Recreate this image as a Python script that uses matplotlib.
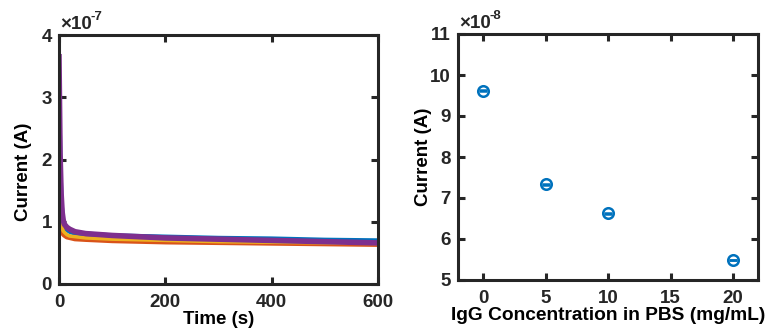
import matplotlib.pyplot as plt
from matplotlib.ticker import FuncFormatter

plt.rcParams['font.family'] = ['Liberation Sans', 'DejaVu Sans']
plt.rcParams['font.weight'] = 'bold'
plt.rcParams['axes.labelweight'] = 'bold'

# chronoamperometry traces (current in A)
time_s = [0, 2, 4, 6, 8, 10, 15, 20, 30, 50, 100, 150, 200, 300, 400, 500, 600]
cur_blue = [2.60e-7, 1.70e-7, 1.25e-7, 1.05e-7, 0.97e-7, 0.93e-7, 0.88e-7, 0.85e-7, 0.82e-7, 0.80e-7,
            0.77e-7, 0.76e-7, 0.75e-7, 0.73e-7, 0.72e-7, 0.70e-7, 0.69e-7]
cur_orange = [1.60e-7, 1.10e-7, 0.92e-7, 0.85e-7, 0.81e-7, 0.79e-7, 0.76e-7, 0.75e-7, 0.73e-7, 0.72e-7,
              0.70e-7, 0.69e-7, 0.68e-7, 0.67e-7, 0.66e-7, 0.65e-7, 0.64e-7]
cur_yellow = [1.65e-7, 1.15e-7, 0.97e-7, 0.89e-7, 0.85e-7, 0.83e-7, 0.79e-7, 0.77e-7, 0.76e-7, 0.74e-7,
              0.72e-7, 0.71e-7, 0.70e-7, 0.68e-7, 0.67e-7, 0.66e-7, 0.65e-7]
cur_purple = [3.65e-7, 2.10e-7, 1.45e-7, 1.15e-7, 1.02e-7, 0.96e-7, 0.91e-7, 0.88e-7, 0.84e-7, 0.81e-7,
              0.78e-7, 0.76e-7, 0.74e-7, 0.72e-7, 0.70e-7, 0.68e-7, 0.66e-7]

# concentration response
conc = [0, 5, 10, 20]
current = [9.62e-8, 7.33e-8, 6.63e-8, 5.49e-8]
current_err = [0.01e-8, 0.01e-8, 0.01e-8, 0.01e-8]

FS = 13.5
DARK = '#262626'

fig = plt.figure(figsize=(7.65, 3.32), dpi=100)
ax1 = fig.add_axes([59/765, 48/332, 319/765, 249/332])
ax2 = fig.add_axes([458/765, 52/332, 300/765, 246/332])


def style(ax, exp):
    for s in ax.spines.values():
        s.set_linewidth(2.2)
        s.set_color(DARK)
    ax.tick_params(direction='in', length=5, width=2.2, top=True, right=True,
                   labelsize=FS, colors=DARK, pad=5)
    ax.tick_params(axis='x', pad=7)
    ax.text(0.003, 1.01, '\u00d710', transform=ax.transAxes, fontsize=FS,
            color=DARK, va='bottom', ha='left')
    ax.annotate(exp, xy=(0.003, 1.01), xycoords='axes fraction', xytext=(31, 10),
                textcoords='offset pixels', fontsize=9.5, color=DARK, va='bottom', ha='left')


ax1.plot(time_s, cur_blue, color='#0072BD', lw=4)
ax1.plot(time_s, cur_orange, color='#D95319', lw=4)
ax1.plot(time_s, cur_yellow, color='#EDB120', lw=2.5)
ax1.plot(time_s, cur_purple, color='#7E2F8E', lw=4)
ax1.set_xlim(0, 600)
ax1.set_ylim(0, 4e-7)
ax1.set_xticks([0, 200, 400, 600])
ax1.set_yticks([0, 1e-7, 2e-7, 3e-7, 4e-7])
ax1.yaxis.set_major_formatter(FuncFormatter(lambda v, p: f'{v/1e-7:g}'))
ax1.set_xlabel('Time (s)', fontsize=FS, labelpad=0)
ax1.set_ylabel('Current (A)', fontsize=FS)
ax1.yaxis.set_label_coords(-0.085, 0.45)
style(ax1, '-7')

ax2.errorbar(conc, current, yerr=current_err, fmt='o', mfc='none', mec='#0072BD', mew=1.8,
             ms=7.6, ecolor='#0072BD', elinewidth=1.5, capsize=2.7, capthick=1.6)
ax2.set_xlim(-2, 22)
ax2.set_ylim(5e-8, 11e-8)
ax2.set_xticks([0, 5, 10, 15, 20])
ax2.set_yticks([v * 1e-8 for v in range(5, 12)])
ax2.yaxis.set_major_formatter(FuncFormatter(lambda v, p: f'{round(v/1e-8):d}'))
ax2.set_xlabel('IgG Concentration in PBS (mg/mL)', fontsize=13.8, labelpad=0)
ax2.set_ylabel('Current (A)', fontsize=FS)
ax2.yaxis.set_label_coords(-0.085, 0.5)
style(ax2, '-8')

fig.savefig('out.png', dpi=100)
